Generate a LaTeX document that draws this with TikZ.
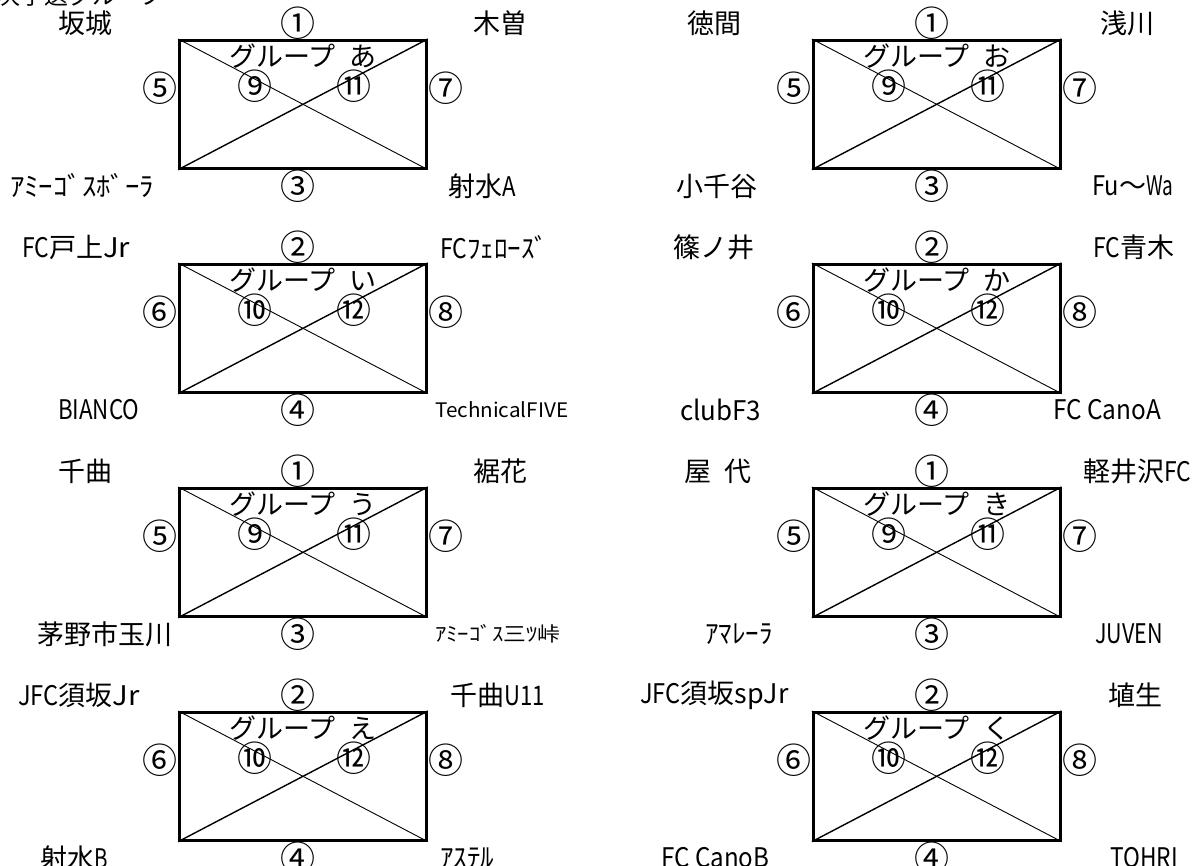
\documentclass[tikz,border=0pt]{standalone}
\usepackage{fontspec}
\usepackage{graphicx}
\newfontfamily\jp{Noto Sans CJK JP}
\usetikzlibrary{calc}
\newdimen\hwd \hwd=13.5pt
\newcommand\hw[2]{\resizebox{#1\hwd}{\height}{#2}}
\tikzset{
  txt/.style={font=\jp\fontsize{27}{27}\selectfont, inner sep=0pt},
  circ/.style={font=\jp\fontsize{35}{35}\selectfont, inner sep=0pt},
  smalltxt/.style={font=\jp\fontsize{20}{20}\selectfont, inner sep=0pt},
  courtbox/.style={draw, line width=2.7pt, minimum width=247pt, minimum height=128pt, inner sep=0pt},
  diagA/.style={line width=0.9pt},
  diagB/.style={line width=1.4pt},
}
\newcommand\setA{\def\Lt{①}\def\Lb{③}\def\Ll{⑤}\def\Lr{⑦}\def\Li{⑨}\def\Lj{⑪}}
\newcommand\setB{\def\Lt{②}\def\Lb{④}\def\Ll{⑥}\def\Lr{⑧}\def\Li{⑩}\def\Lj{⑫}}
% #1 cx, #2 cy, #3 id, #4 kana, #5 label set
\newcommand\court[5]{%
  #5%
  \node[courtbox] (c#3) at (#1,#2) {};
  \draw[diagA] (c#3.north west) -- (c#3.south east);
  \draw[diagB] (c#3.south west) -- (c#3.north east);
  \node[circ] (t#3) at ($(#1,#2)+(-5,-81.3)$) {\Lt};
  \node[circ] (b#3) at ($(#1,#2)+(-5,81.7)$) {\Lb};
  \node[circ] (l#3) at ($(#1,#2)+(-143,-16)$) {\Ll};
  \node[circ] (r#3) at ($(#1,#2)+(143,-16)$) {\Lr};
  \node[txt] (g#3) at ($(#1,#2)+(0,-48)$) {グループ\hspace{0.5em}#4};
  \node[circ] (i#3) at ($(#1,#2)+(-48,-18)$) {\Li};
  \node[circ] (j#3) at ($(#1,#2)+(51,-18)$) {\Lj};
}
\begin{document}
\begin{tikzpicture}[x=1pt,y=-1pt]
\useasboundingbox[fill=white] (0,0) rectangle (1197,865);
\node[txt, font=\jp\fontsize{24}{24}\selectfont, anchor=base west] (head) at (-17,4) {1次予選グループ};

\court{303}{104.3}{a}{あ}{\setA}
\court{303}{328.3}{b}{い}{\setB}
\court{303}{552.3}{c}{う}{\setA}
\court{303}{776.3}{d}{え}{\setB}
\court{936.7}{104.3}{e}{お}{\setA}
\court{936.7}{328.3}{f}{か}{\setB}
\court{936.7}{552.3}{g}{き}{\setA}
\court{936.7}{776.3}{h}{く}{\setB}

% group あ
\node[txt] (a1) at (85,23) {坂城};
\node[txt] (a2) at (500,23) {木曽};
\node[txt, anchor=west] (a3) at (10,186) {\resizebox{144pt}{\height}{ｱﾐｰｺﾞｽﾎﾞｰﾗ}};
\node[txt, anchor=west] (a4) at (448,186) {射水\hw{1}{A}};
% group い
\node[txt, anchor=west] (b1) at (22,247) {\hw{2}{FC}戸上\hw{2}{Jr}};
\node[txt, anchor=west] (b2) at (440,247) {\hw{2}{FC}ﾌｪﾛｰｽﾞ};
\node[txt, anchor=west] (b3) at (58,410) {\hw{6}{BIANCO}};
\node[smalltxt, anchor=west] (b4) at (435,410) {\resizebox{133pt}{\height}{TechnicalFIVE}};
% group う
\node[txt] (c1) at (85,471) {千曲};
\node[txt] (c2) at (500,471) {裾花};
\node[txt, anchor=east] (c3) at (173,634) {茅野市玉川};
\node[smalltxt, anchor=west] (c4) at (435,634) {\resizebox{125pt}{\height}{ｱﾐｰｺﾞｽ三ﾂ峠}};
% group え
\node[txt, anchor=west] (d1) at (18,695) {\hw{3}{JFC}須坂\hw{2}{Jr}};
\node[txt, anchor=west] (d2) at (450,695) {千曲\hw{3}{U11}};
\node[txt, anchor=west] (d3) at (40,858) {射水\hw{1}{B}};
\node[txt, anchor=west] (d4) at (440,858) {ｱｽﾃﾙ};
% group お
\node[txt] (e1) at (714,23) {徳間};
\node[txt] (e2) at (1127,23) {浅川};
\node[txt] (e3) at (717,186) {小千谷};
\node[txt, anchor=west] (e4) at (1092,186) {\hw{2}{Fu}～\hw{2}{Wa}};
% group か
\node[txt] (f1) at (714,247) {篠ノ井};
\node[txt, anchor=west] (f2) at (1093,247) {\hw{2}{FC}青木};
\node[txt, anchor=west] (f3) at (680,410) {\hw{6}{clubF3}};
\node[txt, anchor=west] (f4) at (1053,410) {\hw{8}{FC CanoA}};
% group き
\node[txt] (g1) at (718,471) {屋\hspace{0.5em}代};
\node[txt, anchor=west] (g2) at (1083,471) {軽井沢\hw{2}{FC}};
\node[txt, anchor=west] (g3) at (705,634) {ｱﾏﾚｰﾗ};
\node[txt, anchor=west] (g4) at (1095,634) {\hw{5}{JUVEN}};
% group く
\node[txt, anchor=west] (h1) at (640,695) {\hw{3}{JFC}須坂\hw{4}{spJr}};
\node[txt] (h2) at (1135,695) {埴生};
\node[txt, anchor=west] (h3) at (661,858) {\hw{8}{FC CanoB}};
\node[txt, anchor=west] (h4) at (1110,858) {\hw{5}{TOHRI}};
\end{tikzpicture}
\end{document}
